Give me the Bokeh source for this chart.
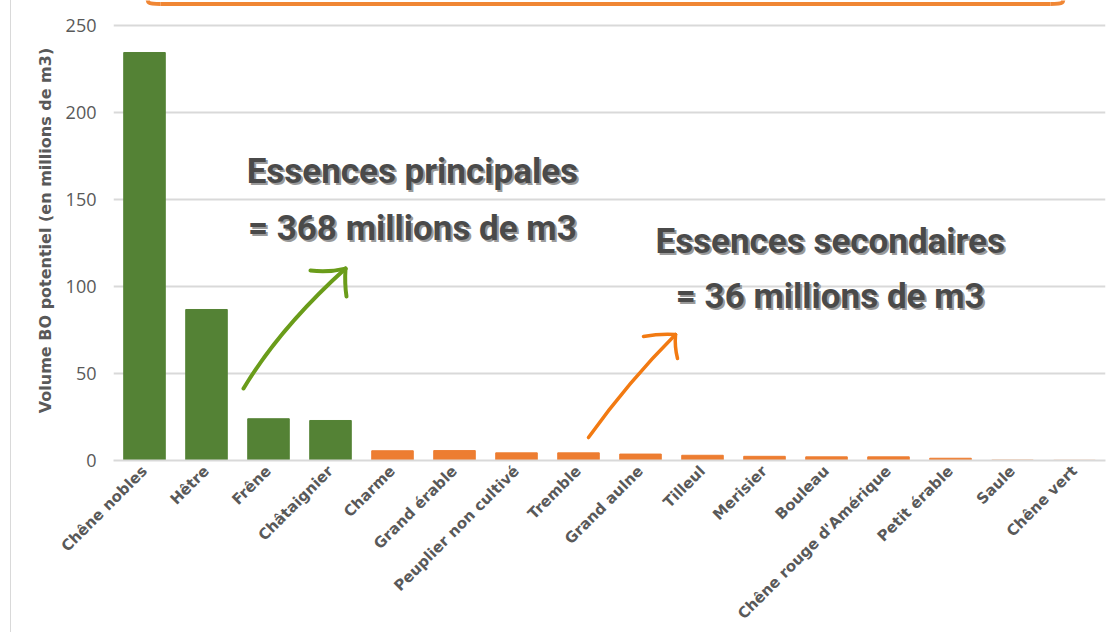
import math
from bokeh.plotting import figure
from bokeh.models import ColumnDataSource, Range1d, FixedTicker
from bokeh.core.properties import value
from bokeh.embed import file_html
from bokeh.resources import INLINE

# ---------------- data ----------------
species = ["Chêne nobles", "Hêtre", "Frêne", "Châtaignier", "Charme",
           "Grand érable", "Peuplier non cultivé", "Tremble", "Grand aulne",
           "Tilleul", "Merisier", "Bouleau", "Chêne rouge d'Amérique",
           "Petit érable", "Saule", "Chêne vert"]
volumes = [234.5, 86.8, 24.0, 23.0, 5.6, 5.7, 4.4, 4.4, 3.7,
           3.0, 2.4, 2.1, 2.1, 1.3, 0.2, 0.1]
groups = ["principale"] * 4 + ["secondaire"] * 12
y_ticks = [0, 50, 100, 150, 200, 250]
y_title = "Volume BO potentiel (en millions de m3)"
note_main = ["Essences principales", "= 368 millions de m3"]
note_sec = ["Essences secondaires", "= 36 millions de m3"]

# ---------------- styles ----------------
GREEN = "#548235"
ORANGE = "#ED7D31"
GREY_TXT = "#595959"
GRID = "#d9d9d9"
group_color = {"principale": GREEN, "secondaire": ORANGE}

x_pos = list(range(len(species)))
src = ColumnDataSource(dict(x=x_pos, top=volumes,
                            color=[group_color[g] for g in groups]))

p = figure(width=1101, height=632, output_backend="svg", toolbar_location=None,
           x_range=Range1d(-0.5, len(species) - 0.5), y_range=Range1d(0, 264.4),
           min_border_left=102, min_border_right=7, min_border_top=0,
           min_border_bottom=172)
p.styles = {"margin-left": "10px", "border-left": "1px solid #d9d9d9"}
p.outline_line_color = None
p.background_fill_color = "white"
p.border_fill_color = "white"

p.vbar(x="x", top="top", bottom=0, width=0.67, color="color", source=src)

# axes
p.xaxis.ticker = FixedTicker(ticks=x_pos)
p.xaxis.major_label_overrides = {i: s for i, s in enumerate(species)}
p.xaxis.major_label_orientation = math.pi / 4
p.xaxis.major_label_text_font = "DejaVu Sans"
p.xaxis.major_label_text_font_style = "bold"
p.xaxis.major_label_text_font_size = "15px"
p.xaxis.major_label_text_color = GREY_TXT
p.xaxis.major_label_standoff = 2
p.xaxis.major_tick_line_color = None
p.xaxis.minor_tick_line_color = None
p.xaxis.axis_line_color = GRID
p.xaxis.axis_line_width = 2

p.yaxis.ticker = FixedTicker(ticks=y_ticks)
p.yaxis.major_label_text_font = "Open Sans"
p.yaxis.major_label_text_font_size = "18px"
p.yaxis.major_label_text_color = GREY_TXT
p.yaxis.major_label_standoff = 11
p.yaxis.major_tick_line_color = None
p.yaxis.minor_tick_line_color = None
p.yaxis.axis_line_color = None
p.yaxis.axis_label = y_title
p.yaxis.axis_label_text_font = "DejaVu Sans"
p.yaxis.axis_label_text_font_style = "bold"
p.yaxis.axis_label_text_font_size = "16px"
p.yaxis.axis_label_text_color = GREY_TXT
p.yaxis.axis_label_standoff = 8

p.xgrid.grid_line_color = None
p.ygrid.grid_line_color = GRID
p.ygrid.grid_line_width = 2

# orange frame (bottom edge of a box above the chart)
BOX = "#F08634"
p.bezier(x0=[0.048, 14.613], y0=[268.0, 262.4], x1=[0.258, 14.823], y1=[262.4, 268.0],
         cx0=[0.048, 14.823], cy0=[262.4, 262.4], cx1=[0.048, 14.823], cy1=[262.4, 262.4],
         line_color=BOX, line_width=4)
p.segment(x0=[0.258], y0=[262.4], x1=[14.613], y1=[262.4], line_color=BOX, line_width=4)

# hand-drawn arrows
GREEN_ARROW = "#6A9C1A"
ORANGE_ARROW = "#F27A12"
p.quadratic(x0=[1.597, 2.677, 3.242], y0=[41.4, 109.2, 110.3],
            x1=[3.242, 3.242, 3.258], y1=[110.3, 110.3, 94.3],
            cx=[2.19, 2.968, 3.226], cy=[76.4, 108.0, 101.7],
            line_color=GREEN_ARROW, line_width=4, line_cap="round")
p.quadratic(x0=[7.161, 8.048, 8.565], y0=[13.2, 71.3, 72.4],
            x1=[8.565, 8.565, 8.597], y1=[72.4, 72.4, 58.6],
            cx=[7.815, 8.323, 8.548], cy=[45.7, 73.0, 65.5],
            line_color=ORANGE_ARROW, line_width=3.5, line_cap="round")

# annotation texts with shadow
ann = ColumnDataSource(dict(x=[4.32, 4.32, 11.06, 11.06],
                            y=[166.2, 133.4, 126.0, 94.4],
                            t=note_main + note_sec))
common = dict(x="x", y="y", text="t", source=ann, text_align="center",
              text_baseline="alphabetic", text_font=value("Roboto"),
              text_font_style="bold", text_font_size="35px")
p.text(text_color="#9a9a9a", x_offset=2, y_offset=2, **common)
p.text(text_color="#4a4a4a", **common)

open("out.html", "w").write(file_html(p, INLINE))
